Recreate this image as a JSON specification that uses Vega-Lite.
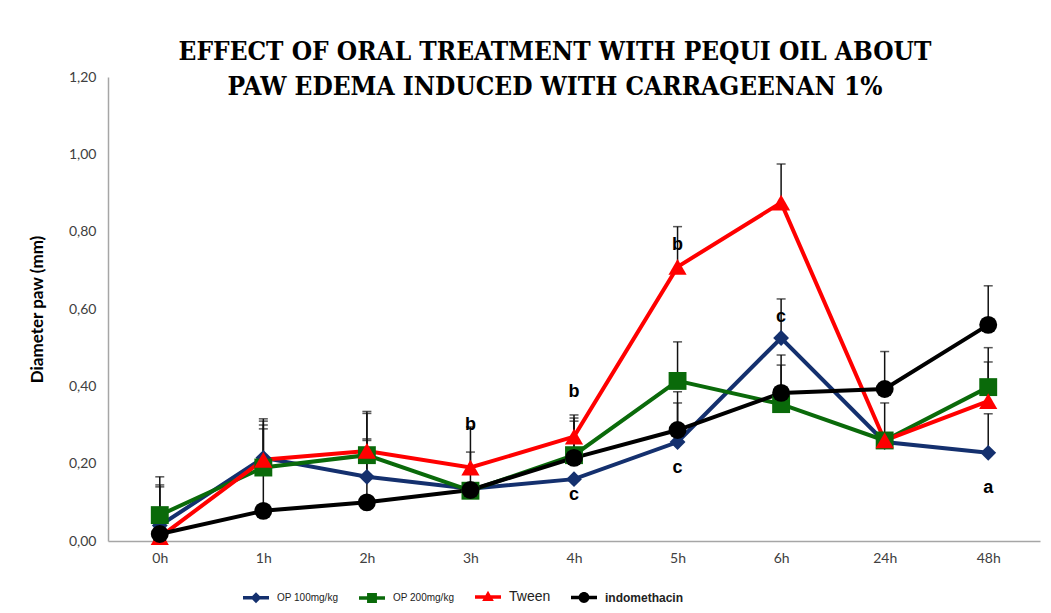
{
  "$schema": "https://vega.github.io/schema/vega-lite/v6.json",
  "width": 932,
  "height": 464,
  "autosize": {"type": "none"},
  "padding": {"left": 108, "top": 77, "right": 11, "bottom": 72},
  "background": "white",
  "config": {"view": {"stroke": null}},
  "title": {
    "text": ["EFFECT OF ORAL TREATMENT WITH PEQUI OIL ABOUT", "PAW EDEMA INDUCED WITH CARRAGEENAN 1%"],
    "font": "DejaVu Serif Condensed",
    "fontWeight": "bold",
    "fontSize": 26,
    "lineHeight": 35,
    "color": "#000000",
    "anchor": "middle",
    "dx": -19,
    "offset": -30
  },
  "datasets": {
    "main": [
      {"time": "0h", "series": "OP 100mg/kg", "value": 0.04, "upper": 0.14},
      {"time": "1h", "series": "OP 100mg/kg", "value": 0.215, "upper": 0.316},
      {"time": "2h", "series": "OP 100mg/kg", "value": 0.166, "upper": 0.26},
      {"time": "3h", "series": "OP 100mg/kg", "value": 0.135, "upper": null},
      {"time": "4h", "series": "OP 100mg/kg", "value": 0.16, "upper": null},
      {"time": "5h", "series": "OP 100mg/kg", "value": 0.256, "upper": 0.357},
      {"time": "6h", "series": "OP 100mg/kg", "value": 0.525, "upper": 0.626},
      {"time": "24h", "series": "OP 100mg/kg", "value": 0.256, "upper": 0.357},
      {"time": "48h", "series": "OP 100mg/kg", "value": 0.228, "upper": 0.329},
      {"time": "0h", "series": "OP 200mg/kg", "value": 0.067, "upper": 0.166},
      {"time": "1h", "series": "OP 200mg/kg", "value": 0.19, "upper": 0.29},
      {"time": "2h", "series": "OP 200mg/kg", "value": 0.222, "upper": 0.33},
      {"time": "3h", "series": "OP 200mg/kg", "value": 0.13, "upper": null},
      {"time": "4h", "series": "OP 200mg/kg", "value": 0.222, "upper": 0.318},
      {"time": "5h", "series": "OP 200mg/kg", "value": 0.414, "upper": 0.515},
      {"time": "6h", "series": "OP 200mg/kg", "value": 0.354, "upper": 0.455},
      {"time": "24h", "series": "OP 200mg/kg", "value": 0.26, "upper": null},
      {"time": "48h", "series": "OP 200mg/kg", "value": 0.398, "upper": 0.5},
      {"time": "0h", "series": "Tween", "value": 0.01, "upper": 0.145},
      {"time": "1h", "series": "Tween", "value": 0.21, "upper": 0.31},
      {"time": "2h", "series": "Tween", "value": 0.233, "upper": 0.335},
      {"time": "3h", "series": "Tween", "value": 0.19, "upper": 0.23},
      {"time": "4h", "series": "Tween", "value": 0.27, "upper": 0.326},
      {"time": "5h", "series": "Tween", "value": 0.709, "upper": 0.813},
      {"time": "6h", "series": "Tween", "value": 0.875, "upper": 0.975},
      {"time": "24h", "series": "Tween", "value": 0.26, "upper": null},
      {"time": "48h", "series": "Tween", "value": 0.362, "upper": 0.463},
      {"time": "0h", "series": "indomethacin", "value": 0.018, "upper": null},
      {"time": "1h", "series": "indomethacin", "value": 0.078, "upper": 0.3},
      {"time": "2h", "series": "indomethacin", "value": 0.1, "upper": 0.264},
      {"time": "3h", "series": "indomethacin", "value": 0.132, "upper": 0.295},
      {"time": "4h", "series": "indomethacin", "value": 0.215, "upper": 0.31},
      {"time": "5h", "series": "indomethacin", "value": 0.287, "upper": 0.386},
      {"time": "6h", "series": "indomethacin", "value": 0.383, "upper": 0.481},
      {"time": "24h", "series": "indomethacin", "value": 0.393, "upper": 0.49},
      {"time": "48h", "series": "indomethacin", "value": 0.559, "upper": 0.66}
    ],
    "letters": [
      {"time": "3h", "value": 0.3, "label": "b"},
      {"time": "4h", "value": 0.386, "label": "b"},
      {"time": "4h", "value": 0.12, "label": "c"},
      {"time": "5h", "value": 0.766, "label": "b"},
      {"time": "5h", "value": 0.19, "label": "c"},
      {"time": "6h", "value": 0.58, "label": "c"},
      {"time": "48h", "value": 0.137, "label": "a"}
    ]
  },
  "encoding": {
    "x": {
      "field": "time",
      "type": "ordinal",
      "sort": ["0h", "1h", "2h", "3h", "4h", "5h", "6h", "24h", "48h"],
      "scale": {"type": "point", "padding": 0.5},
      "axis": {
        "title": null,
        "labelAngle": 0,
        "ticks": false,
        "labelPadding": 10,
        "labelFont": "Lato",
        "labelFontSize": 14,
        "labelColor": "#404040",
        "domainColor": "#a6a6a6",
        "domainWidth": 1.5
      }
    },
    "y": {
      "field": "value",
      "type": "quantitative",
      "scale": {"domain": [0, 1.2], "nice": false},
      "axis": {
        "title": "Diameter paw (mm)",
        "titleFont": "Lato",
        "titleFontSize": 17,
        "titleFontWeight": "bold",
        "titleColor": "#000000",
        "titlePadding": 22,
        "values": [0, 0.2, 0.4, 0.6, 0.8, 1.0, 1.2],
        "labelExpr": "replace(format(datum.value, '.2f'), '.', ',')",
        "grid": false,
        "ticks": false,
        "labelPadding": 12,
        "labelFont": "Lato",
        "labelFontSize": 14,
        "labelColor": "#404040",
        "domainColor": "#a6a6a6",
        "domainWidth": 1.5
      }
    }
  },
  "layer": [
    {
      "data": {"name": "main"},
      "mark": {"type": "line", "strokeWidth": 4},
      "encoding": {
        "color": {
          "field": "series",
          "type": "nominal",
          "scale": {
            "domain": ["OP 100mg/kg", "OP 200mg/kg", "Tween", "indomethacin"],
            "range": ["#14306e", "#0a6a0a", "#ff0000", "#000000"]
          },
          "legend": {
            "title": null,
            "orient": "none",
            "direction": "horizontal",
            "legendX": 135,
            "legendY": 507,
            "symbolSize": 676,
            "symbolStrokeWidth": 0,
            "labelOffset": 8,
            "columnPadding": 20,
            "labelFont": "Liberation Sans",
            "labelFontSize": 10,
            "labelColor": "#222222",
            "labelLimit": 200,
            "encoding": {
              "symbols": {
                "shape": {"value": {"expr": "datum.value === 'OP 100mg/kg' ? 'M-1,-0.13L1,-0.13L1,0.13L-1,0.13Z M0,-0.42L0.42,0L0,0.42L-0.42,0Z' : datum.value === 'OP 200mg/kg' ? 'M-1,-0.13L1,-0.13L1,0.13L-1,0.13Z M-0.38,-0.38L0.38,-0.38L0.38,0.38L-0.38,0.38Z' : datum.value === 'Tween' ? 'M-1,-0.13L1,-0.13L1,0.13L-1,0.13Z M0,-0.48L0.45,0.3L-0.45,0.3Z' : 'M-1,-0.13L1,-0.13L1,0.13L-1,0.13Z M-0.42,0A0.42,0.42 0 1,1 0.42,0A0.42,0.42 0 1,1 -0.42,0Z'"}},
                "fill": {"value": {"expr": "datum.value === 'OP 100mg/kg' ? '#14306e' : datum.value === 'OP 200mg/kg' ? '#0a6a0a' : datum.value === 'Tween' ? '#ff0000' : '#000000'"}},
                "stroke": {"value": "transparent"},
                "size": {"value": 676}
              },
              "labels": {
                "fontSize": {"value": {"expr": "datum.value === 'Tween' ? 14 : datum.value === 'indomethacin' ? 12 : 10"}},
                "fontWeight": {"value": {"expr": "datum.value === 'indomethacin' ? 'bold' : 'normal'"}}
              }
            }
          }
        }
      }
    },
    {
      "data": {"name": "main"},
      "transform": [{"filter": "datum.upper != null"}],
      "mark": {"type": "rule", "color": "#111111", "strokeWidth": 1.5},
      "encoding": {"y2": {"field": "upper"}}
    },
    {
      "data": {"name": "main"},
      "transform": [{"filter": "datum.upper != null"}],
      "mark": {"type": "tick", "color": "#111111", "thickness": 1.5, "size": 9, "orient": "horizontal"},
      "encoding": {"y": {"field": "upper", "type": "quantitative"}}
    },
    {
      "data": {"name": "main"},
      "transform": [{"filter": "datum.series === 'OP 100mg/kg'"}],
      "mark": {"type": "point", "filled": true, "opacity": 1, "strokeWidth": 0, "shape": "diamond", "size": 250, "color": "#14306e"},
      "encoding": {}
    },
    {
      "data": {"name": "main"},
      "transform": [{"filter": "datum.series === 'OP 200mg/kg'"}],
      "mark": {"type": "point", "filled": true, "opacity": 1, "strokeWidth": 0, "shape": "square", "size": 320, "color": "#0a6a0a"},
      "encoding": {}
    },
    {
      "data": {"name": "main"},
      "transform": [{"filter": "datum.series === 'Tween'"}],
      "mark": {"type": "point", "filled": true, "opacity": 1, "strokeWidth": 0, "shape": "triangle-up", "size": 330, "color": "#ff0000"},
      "encoding": {}
    },
    {
      "data": {"name": "main"},
      "transform": [{"filter": "datum.series === 'indomethacin'"}],
      "mark": {"type": "point", "filled": true, "opacity": 1, "strokeWidth": 0, "shape": "circle", "size": 320, "color": "#000000"},
      "encoding": {}
    },
    {
      "data": {"name": "letters"},
      "mark": {"type": "text", "font": "Liberation Sans", "fontWeight": "bold", "fontSize": 18, "color": "#000000", "baseline": "middle"},
      "encoding": {"text": {"field": "label"}}
    }
  ]
}
